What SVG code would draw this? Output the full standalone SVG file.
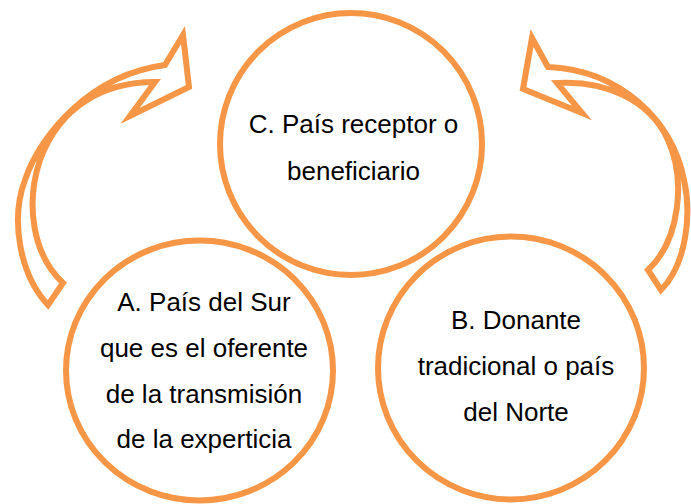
<svg xmlns="http://www.w3.org/2000/svg" width="691" height="504" viewBox="0 0 691 504">
<style>
.ring{fill:#ffffff;stroke:#F79646;stroke-width:6}
.arrow{fill:none;stroke:#F79646;stroke-width:6;stroke-linejoin:miter;stroke-miterlimit:10}
.lbl{font-family:"Liberation Sans",Arial,sans-serif;font-size:26px;fill:#000000;text-anchor:middle}
</style>
<rect width="691" height="504" fill="#ffffff"/>
<g id="connectors">
<path class="arrow" d="M 48,305 C 20,275 10,220 25,180 C 40,135 90,75 165,65 L 183,35 L 189,87 L 130,116 L 155,82 C 105,82 60,105 40,160 C 25,205 33,255 63,283 Z"/>
<path class="arrow" d="M 661,290 C 686,265 692,215 684,180 C 672,120 620,70 548,67 L 532,38 L 523,89 L 582,113 L 557,83 C 605,80 650,100 668,140 C 686,180 680,240 648,270 Z"/>
</g>
<g id="nodeC">
<circle class="ring" cx="351" cy="144" r="131"/>
<text class="lbl" x="353.5" y="133.3">C. País receptor o</text>
<text class="lbl" x="353.5" y="180">beneficiario</text>
</g>
<g id="nodeA">
<ellipse class="ring" cx="199.5" cy="370.5" rx="133.5" ry="130"/>
<text class="lbl" x="204" y="310.7">A. País del Sur</text>
<text class="lbl" x="204" y="356.7">que es el oferente</text>
<text class="lbl" x="204" y="402.7">de la transmisión</text>
<text class="lbl" x="204" y="448">de la experticia</text>
</g>
<g id="nodeB">
<ellipse class="ring" cx="511" cy="368" rx="133" ry="131.5"/>
<text class="lbl" x="516" y="329.3">B. Donante</text>
<text class="lbl" x="516" y="375">tradicional o país</text>
<text class="lbl" x="516" y="420.7">del Norte</text>
</g>
</svg>
